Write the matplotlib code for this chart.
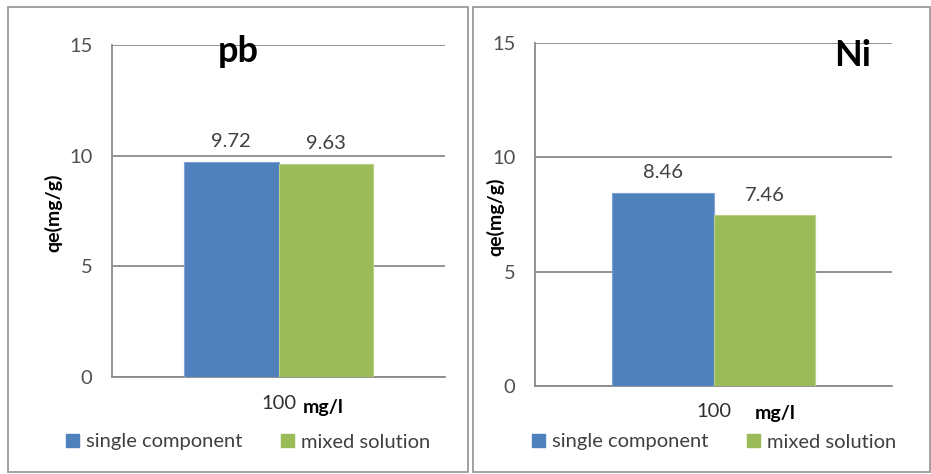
import matplotlib
matplotlib.use("Agg")
import matplotlib.pyplot as plt
from matplotlib.patches import Rectangle, Patch

plt.rcParams['font.family'] = ['Lato', 'DejaVu Sans']

categories = ["100"]
series_names = ["single component", "mixed solution"]
pb_values = [9.72, 9.63]
ni_values = [8.46, 7.46]
yticks = [0, 5, 10, 15]
colors = ["#4F81BD", "#9BBB59"]
edge_colors = ["#7FA3D2", "#B9D089"]

W, H = 931, 474
DPI = 100
fig = plt.figure(figsize=(W / DPI, H / DPI), dpi=DPI)
fig.patch.set_facecolor("white")


def fx(px):
    return px / W


def fy(py):
    return 1 - py / H


# outer panel frames
for (x0, y0, x1, y1) in [(8, 7, 468, 472), (473, 7, 930, 472)]:
    fig.add_artist(Rectangle((fx(x0), fy(y1)), fx(x1 - x0), (y1 - y0) / H,
                             transform=fig.transFigure, fill=False,
                             edgecolor="#9a9a9a", lw=1.3))

panels = [
    dict(vals=pb_values, title="pb", box=(112, 45, 445, 377),
         title_xy=(238, 52), ylab_x=53, ylab_y=213,
         unit_xy=(323, 408), cat_y=405, leg_xy=(66, 442)),
    dict(vals=ni_values, title="Ni", box=(535, 43, 892, 386),
         title_xy=(853, 55), ylab_x=495, ylab_y=217,
         unit_xy=(775, 413), cat_y=413, leg_xy=(532, 442)),
]

FS = 14.5
bar_w = 0.285
for p in panels:
    x0, y0, x1, y1 = p["box"]
    ax = fig.add_axes([fx(x0), fy(y1), (x1 - x0) / W, (y1 - y0) / H])
    ax.set_xlim(-0.5, 0.5)
    ax.set_ylim(0, 15)
    ax.set_yticks(yticks)
    ax.set_yticklabels([str(t) for t in yticks], fontsize=FS, color="#505050")
    ax.tick_params(axis="y", length=0, pad=14)
    ax.yaxis.grid(True, color="#8a8a8a", lw=1.3)
    ax.set_axisbelow(True)
    for s in ["top", "right"]:
        ax.spines[s].set_visible(False)
    for s in ["left", "bottom"]:
        ax.spines[s].set_color("#8a8a8a")
        ax.spines[s].set_linewidth(1.3)
    offsets = [-bar_w / 2, bar_w / 2]
    handles = []
    for i, v in enumerate(p["vals"]):
        ax.bar(offsets[i], v, width=bar_w, color=colors[i],
               edgecolor=edge_colors[i], lw=0.8, zorder=3)
        handles.append(Patch(facecolor=colors[i], edgecolor=colors[i]))
        ax.annotate(f"{v:.2f}", (offsets[i], v), xytext=(0, 14.5),
                    textcoords="offset points", ha="center", va="center",
                    fontsize=FS, color="#404040")
    ax.set_xticks([0])
    ax.set_xticklabels(categories, fontsize=FS, color="#303030")
    ax.tick_params(axis="x", length=0, pad=(p["cat_y"] - y1 - 10) * 0.72)
    ax.set_ylabel("qe(mg/g)", fontsize=14, fontweight="bold", color="black")
    ax.yaxis.set_label_coords((p["ylab_x"] - x0) / (x1 - x0),
                              (y1 - p["ylab_y"]) / (y1 - y0))
    ax.yaxis.label.set_va("center")
    ax.set_xlabel("mg/l", fontsize=14, fontweight="bold", color="black")
    ax.xaxis.set_label_coords((p["unit_xy"][0] - x0) / (x1 - x0),
                              (y1 - p["unit_xy"][1]) / (y1 - y0))
    ax.xaxis.label.set_va("center")
    ax.text((p["title_xy"][0] - x0) / (x1 - x0), (y1 - p["title_xy"][1]) / (y1 - y0),
            p["title"], transform=ax.transAxes, ha="center", va="center",
            fontsize=26, fontweight="bold", color="black")
    fig.legend(handles, series_names, loc="center left",
               bbox_to_anchor=(fx(p["leg_xy"][0]), fy(p["leg_xy"][1])),
               ncol=2, frameon=False, fontsize=FS, handlelength=0.65,
               handleheight=0.65, handletextpad=0.35, columnspacing=1.9,
               borderpad=0, borderaxespad=0, labelcolor="#404040")

fig.savefig("out.png", dpi=DPI, facecolor="white")
